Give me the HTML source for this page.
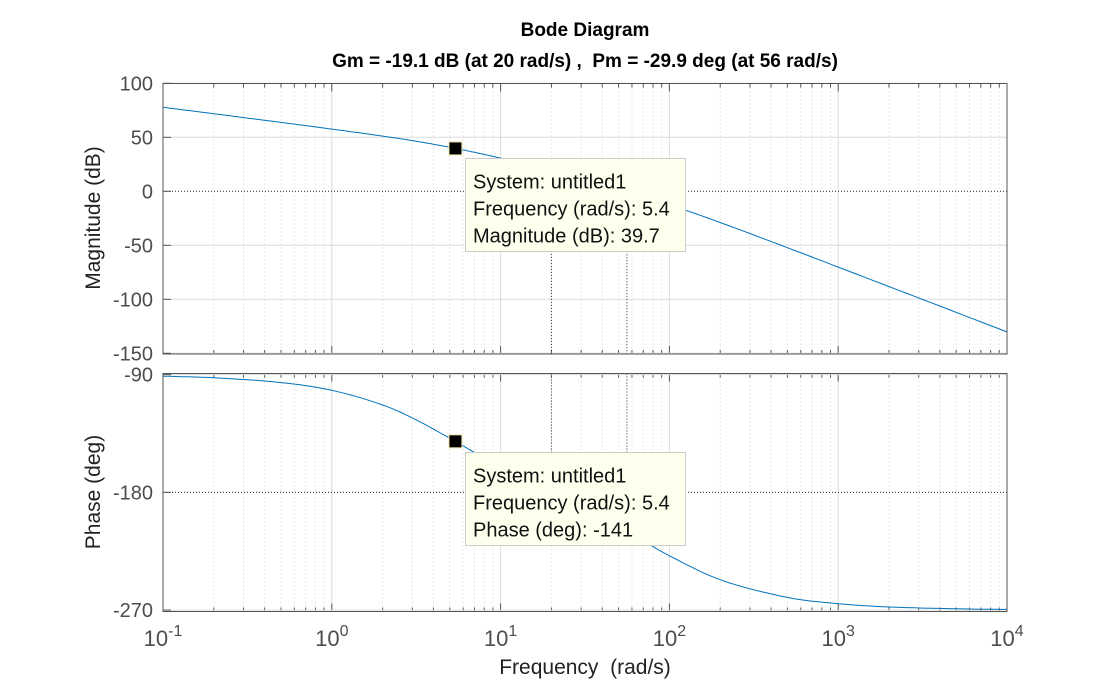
<!DOCTYPE html>
<html><head><meta charset="utf-8"><style>
body{margin:0;background:#fff;}
svg text{font-family:"Liberation Sans",Arial,sans-serif;}
</style></head><body>
<svg id="chart" width="1112" height="688" xmlns="http://www.w3.org/2000/svg">
<rect width="1112" height="688" fill="#fff"/>
<g id="layer"></g>
</svg>
<script>
const freqs=[0.1,0.2,0.5,1,2,3,5,7,10,15,20,30,50,70,100,200,500,1000,2000,5000,10000];
const magDb=[77.8,71.8,63.8,57.6,51.1,46.9,40.8,36.1,30.7,24.1,19.2,12.0,2.3,-4.5,-12.3,-28.9,-52.2,-70.2,-88.2,-112.1,-130.2];
const phaseDeg=[-91.2,-92.4,-96.1,-102.0,-113.2,-123.1,-138.6,-149.5,-160.6,-172.2,-180.0,-191.1,-206.3,-217.1,-228.5,-246.8,-260.3,-265.1,-267.6,-269.0,-269.5];
const magTicks=[100,50,0,-50,-100,-150];
const phaseTicks=[-90,-180,-270];
const decadeExps=[-1,0,1,2,3,4];
const marginFreqs=[20,56];
const gmDb=-19.1;
const pmPhase=-209.9;
const tipFreq=5.4, tipMag=39.7, tipPhase=-141;

const NS='http://www.w3.org/2000/svg';
const L=163,R=1007;
const xs=f=>L+(Math.log10(f)+1)*(R-L)/5;
const yM=v=>191.3-v*1.08;
const pTop=373.5,pBot=611.5;
const yP=v=>374.6+(-90-v)*1.3083;
const layer=document.getElementById('layer');
function mk(tag,attrs,parent){const e=document.createElementNS(NS,tag);for(const k in attrs)e.setAttribute(k,attrs[k]);(parent||layer).appendChild(e);return e;}

function panel(top,bot,name){
  const g=mk('g',{});
  
  
  for(let d=-1;d<4;d++){for(let m=2;m<10;m++){const x=xs(m*Math.pow(10,d));
    mk('line',{x1:x,x2:x,y1:top,y2:bot,stroke:'#d0d0d0','stroke-width':1,'stroke-dasharray':'1,3'},g);
    mk('line',{x1:x,x2:x,y1:top,y2:top+4,stroke:'#555','stroke-width':1},g);
    mk('line',{x1:x,x2:x,y1:bot,y2:bot-4,stroke:'#555','stroke-width':1},g);}}
  decadeExps.forEach(e=>{const x=xs(Math.pow(10,e));
    mk('line',{x1:x,x2:x,y1:top,y2:bot,stroke:'#dcdcdc','stroke-width':1},g);
    mk('line',{x1:x,x2:x,y1:top,y2:top+8,stroke:'#555'},g);
    mk('line',{x1:x,x2:x,y1:bot,y2:bot-8,stroke:'#555'},g);});
  return g;
}
const gm=panel(83.5,354,'magnitude-axes');
magTicks.forEach(v=>{const y=yM(v);
  if(v===0) mk('line',{x1:L,x2:R,y1:y,y2:y,stroke:'#222','stroke-dasharray':'1,2'},gm);
  else mk('line',{x1:L,x2:R,y1:y,y2:y,stroke:'#dcdcdc'},gm);
  mk('line',{x1:L,x2:L+8,y1:y,y2:y,stroke:'#555'},gm);
  const t=mk('text',{x:L-10,y:y+7,'text-anchor':'end','font-size':20,fill:'#4d4d4d'},gm);t.textContent=v;
  
  });
const gp=panel(pTop,pBot,'phase-axes');
phaseTicks.forEach(v=>{const y=yP(v);
  if(v===-180) mk('line',{x1:L,x2:R,y1:y,y2:y,stroke:'#222','stroke-dasharray':'1,2'},gp);
  else mk('line',{x1:L,x2:R,y1:y,y2:y,stroke:'#dcdcdc'},gp);
  mk('line',{x1:L,x2:L+8,y1:y,y2:y,stroke:'#555'},gp);
  const t=mk('text',{x:L-10,y:y+7,'text-anchor':'end','font-size':20,fill:'#4d4d4d'},gp);t.textContent=v;
  
  });
const gx=xs(marginFreqs[0]),px=xs(marginFreqs[1]);
mk('line',{x1:gx,x2:gx,y1:yM(gmDb),y2:354,stroke:'#222','stroke-dasharray':'1,2'});
mk('line',{x1:px,x2:px,y1:yM(0),y2:354,stroke:'#222','stroke-dasharray':'1,2'});
mk('line',{x1:gx,x2:gx,y1:pTop,y2:yP(-180),stroke:'#222','stroke-dasharray':'1,2'});
mk('line',{x1:px,x2:px,y1:pTop,y2:yP(pmPhase),stroke:'#222','stroke-dasharray':'1,2'});
function curve(vals,yf,name){
  let pts=[];
  for(let i=0;i<freqs.length-1;i++){const a=Math.log10(freqs[i]),b=Math.log10(freqs[i+1]);
    for(let k=0;k<8;k++){const t=k/8;
      const i0=Math.max(i-1,0),i3=Math.min(i+2,freqs.length-1);
      const lx=[Math.log10(freqs[i0]),a,b,Math.log10(freqs[i3])];
      const v=[vals[i0],vals[i],vals[i+1],vals[i3]];
      const m1=(v[2]-v[0])/(lx[2]-lx[0]||1)*(b-a),m2=(v[3]-v[1])/(lx[3]-lx[1]||1)*(b-a);
      const h00=2*t*t*t-3*t*t+1,h10=t*t*t-2*t*t+t,h01=-2*t*t*t+3*t*t,h11=t*t*t-t*t;
      const val=h00*v[1]+h10*m1+h01*v[2]+h11*m2;
      pts.push((L+(a+t*(b-a)+1)*(R-L)/5).toFixed(1)+','+yf(val).toFixed(1));}}
  pts.push(xs(freqs[freqs.length-1])+','+yf(vals[vals.length-1]).toFixed(1));
  const p=mk('polyline',{points:pts.join(' '),fill:'none',stroke:'#0072bd','stroke-width':1});
  
  
}
curve(magDb,yM,'magnitude-curve');
curve(phaseDeg,yP,'phase-curve');
mk('rect',{x:L,y:83.5,width:R-L,height:270.5,fill:'none',stroke:'#555'});
mk('rect',{x:L,y:pTop,width:R-L,height:pBot-pTop,fill:'none',stroke:'#555'});
function tip(yv,top,lines,name){
  const g=mk('g',{});
  
  
  const x=xs(tipFreq);
  mk('rect',{x:x-6.5,y:yv-6.5,width:13,height:13,fill:'#000',stroke:'#f0e8b0','stroke-width':1},g);
  mk('rect',{x:465.5,y:top,width:220,height:93,fill:'#ffffee',stroke:'#ccc'},g);
  lines.forEach((s,i)=>{const t=mk('text',{x:473,y:top+30+i*27,'font-size':20,fill:'#111'},g);t.textContent=s;});
}
tip(yM(tipMag),158.5,['System: untitled1','Frequency (rad/s): '+tipFreq,'Magnitude (dB): '+tipMag],'magnitude-datatip');
tip(yP(tipPhase),452.5,['System: untitled1','Frequency (rad/s): '+tipFreq,'Phase (deg): '+tipPhase],'phase-datatip');
decadeExps.forEach(e=>{const x=xs(Math.pow(10,e));
  const t=mk('text',{x:x,y:646,'text-anchor':'middle','font-size':22,fill:'#4d4d4d'});
  
  
  t.innerHTML='10<tspan dy="-10" font-size="16">'+e+'</tspan>';});
</script>
<svg width="1112" height="688" style="position:absolute;left:0;top:0" xmlns="http://www.w3.org/2000/svg">
<text x="585" y="36" text-anchor="middle" font-size="19" font-weight="bold" fill="#000" font-family="Liberation Sans, sans-serif">Bode Diagram</text>
<text x="585" y="67" text-anchor="middle" font-size="19" font-weight="bold" fill="#000" font-family="Liberation Sans, sans-serif" xml:space="preserve">Gm = -19.1 dB (at 20 rad/s) ,  Pm = -29.9 deg (at 56 rad/s)</text>
<text x="585" y="674" text-anchor="middle" font-size="21" fill="#222" font-family="Liberation Sans, sans-serif" xml:space="preserve">Frequency  (rad/s)</text>
<text transform="translate(100,218) rotate(-90)" text-anchor="middle" font-size="21" fill="#222" font-family="Liberation Sans, sans-serif">Magnitude (dB)</text>
<text transform="translate(100,492) rotate(-90)" text-anchor="middle" font-size="21" fill="#222" font-family="Liberation Sans, sans-serif">Phase (deg)</text>
</svg>
</body></html>
